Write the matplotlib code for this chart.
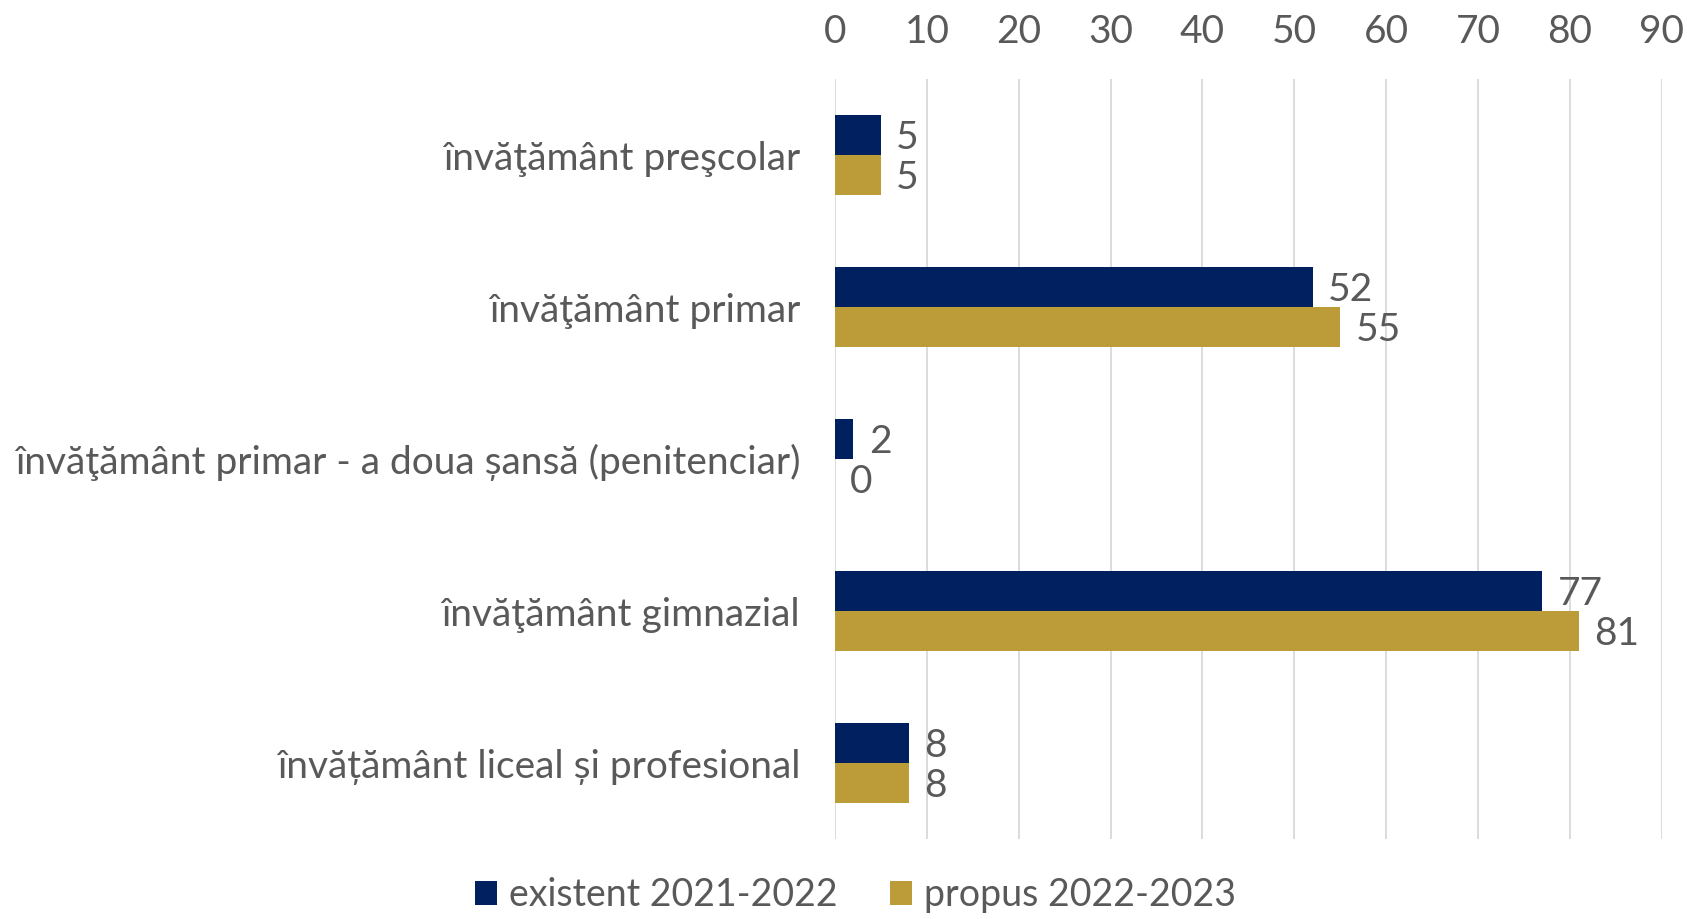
import matplotlib.pyplot as plt
import numpy as np

plt.rcParams['font.family'] = ['Lato', 'DejaVu Sans']

categories = [
    'învăţământ preşcolar',
    'învăţământ primar',
    'învăţământ primar - a doua șansă (penitenciar)',
    'învăţământ gimnazial',
    'învățământ liceal și profesional',
]
existent = [5, 52, 2, 77, 8]
propus = [5, 55, 0, 81, 8]
series_names = ['existent 2021-2022', 'propus 2022-2023']
x_ticks = list(range(0, 100, 10))

navy = '#002060'
gold = '#BC9C38'
text_col = '#595959'
fs = 28

fig = plt.figure(figsize=(16.87, 9.19), dpi=100)
ax = fig.add_axes([0.495, 0.087, 0.49, 0.827])

y = np.arange(len(categories))
h = 0.263
b1 = ax.barh(y - h / 2, existent, height=h, color=navy, label=series_names[0], zorder=3)
b2 = ax.barh(y + h / 2, propus, height=h, color=gold, label=series_names[1], zorder=3)

for bars, vals in [(b1, existent), (b2, propus)]:
    for bar, v in zip(bars, vals):
        ax.annotate(str(v), (bar.get_width(), bar.get_y() + bar.get_height() / 2),
                    xytext=(11, -2), textcoords='offset points',
                    va='center', ha='left', fontsize=fs, color=text_col)

ax.set_ylim(len(categories) - 0.5, -0.5)
ax.set_xlim(0, 90)
ax.set_yticks(y)
ax.set_yticklabels(categories, fontsize=fs, color=text_col)
ax.set_xticks(x_ticks)
ax.xaxis.tick_top()
ax.tick_params(axis='x', labelsize=fs, labelcolor=text_col, length=0, pad=21)
ax.tick_params(axis='y', length=0, pad=25)
ax.grid(axis='x', color='#D9D9D9', linewidth=1.3, zorder=0)
for s in ax.spines.values():
    s.set_visible(False)

fig.legend(handles=[b1, b2], labels=series_names, loc='center', bbox_to_anchor=(0.507, 0.026),
           ncol=2, frameon=False, fontsize=27, labelcolor=text_col,
           handlelength=0.6, handleheight=0.6, handletextpad=0.3, columnspacing=1.4)

fig.savefig('out.png', dpi=100)
